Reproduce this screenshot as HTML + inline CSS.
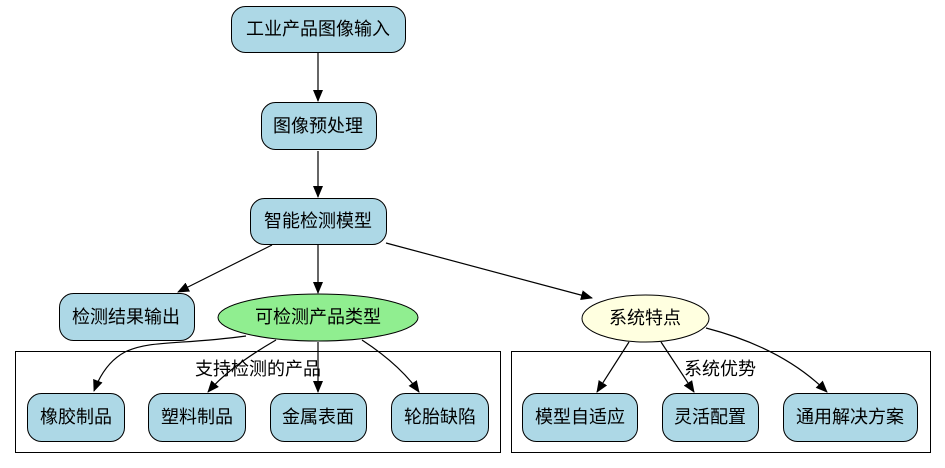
<!DOCTYPE html>
<html><head><meta charset="utf-8"><style>
html,body{margin:0;padding:0;background:#fff;}
svg{display:block;}
text{font-family:"Liberation Sans","Noto Sans CJK SC",sans-serif;font-size:18px;fill:#000;text-anchor:middle;dominant-baseline:central;}
.n{fill:#add8e6;stroke:#000;stroke-width:1;}
.e{fill:none;stroke:#000;stroke-width:1.2;}
</style></head><body>
<svg width="945" height="468" viewBox="0 0 945 468" xmlns="http://www.w3.org/2000/svg">
<defs><marker id="a" markerWidth="12" markerHeight="10" refX="11" refY="5" orient="auto" markerUnits="userSpaceOnUse"><path d="M0,0 L12,5 L0,10 Z" fill="#000"/></marker></defs>
<rect x="15.5" y="351.5" width="485" height="101" fill="none" stroke="#000"/>
<rect x="511.5" y="351.5" width="419" height="101" fill="none" stroke="#000"/>
<text x="258" y="369">支持检测的产品</text>
<text x="720" y="369">系统优势</text>
<!-- edges -->
<path class="e" d="M318,53 L318,101" marker-end="url(#a)"/>
<path class="e" d="M318,151 L318,197" marker-end="url(#a)"/>
<path class="e" d="M272,245 L178,292" marker-end="url(#a)"/>
<path class="e" d="M318,245 L318,293" marker-end="url(#a)"/>
<path class="e" d="M386,243 L592,298" marker-end="url(#a)"/>
<path class="e" d="M246,336 C180,345 150,340 125,352 C110,360 100,375 94,391" marker-end="url(#a)"/>
<path class="e" d="M276,340 C250,355 225,372 208,392" marker-end="url(#a)"/>
<path class="e" d="M318,342 L318,392" marker-end="url(#a)"/>
<path class="e" d="M362,340 C385,355 405,372 419,392" marker-end="url(#a)"/>
<path class="e" d="M629,342 L597,392" marker-end="url(#a)"/>
<path class="e" d="M661,342 L694,392" marker-end="url(#a)"/>
<path class="e" d="M706,328 C760,342 800,365 827,392" marker-end="url(#a)"/>
<!-- nodes -->
<rect class="n" x="231.5" y="6.5" width="174" height="46" rx="14"/><text x="318" y="29">工业产品图像输入</text>
<rect class="n" x="261.5" y="102.5" width="115" height="47" rx="14"/><text x="318" y="126">图像预处理</text>
<rect class="n" x="250.5" y="198.5" width="136" height="46" rx="14"/><text x="318" y="221">智能检测模型</text>
<rect class="n" x="59.5" y="293.5" width="135" height="47" rx="14"/><text x="126" y="317">检测结果输出</text>
<ellipse cx="318" cy="317.5" rx="100" ry="23.5" fill="#90ee90" stroke="#000"/><text x="318" y="317">可检测产品类型</text>
<ellipse cx="645.5" cy="318.5" rx="63.5" ry="23.5" fill="#ffffe0" stroke="#000"/><text x="645" y="318">系统特点</text>
<rect class="n" x="27.5" y="393.5" width="97" height="48" rx="14"/><text x="76" y="417">橡胶制品</text>
<rect class="n" x="148.5" y="393.5" width="97" height="48" rx="14"/><text x="197" y="417">塑料制品</text>
<rect class="n" x="270.5" y="393.5" width="96" height="48" rx="14"/><text x="318" y="417">金属表面</text>
<rect class="n" x="391.5" y="393.5" width="97" height="48" rx="14"/><text x="440" y="417">轮胎缺陷</text>
<rect class="n" x="522.5" y="393.5" width="115" height="48" rx="14"/><text x="580" y="417">模型自适应</text>
<rect class="n" x="662.5" y="393.5" width="96" height="48" rx="14"/><text x="710" y="417">灵活配置</text>
<rect class="n" x="783.5" y="393.5" width="134" height="48" rx="14"/><text x="850" y="417">通用解决方案</text>
</svg>
</body></html>
